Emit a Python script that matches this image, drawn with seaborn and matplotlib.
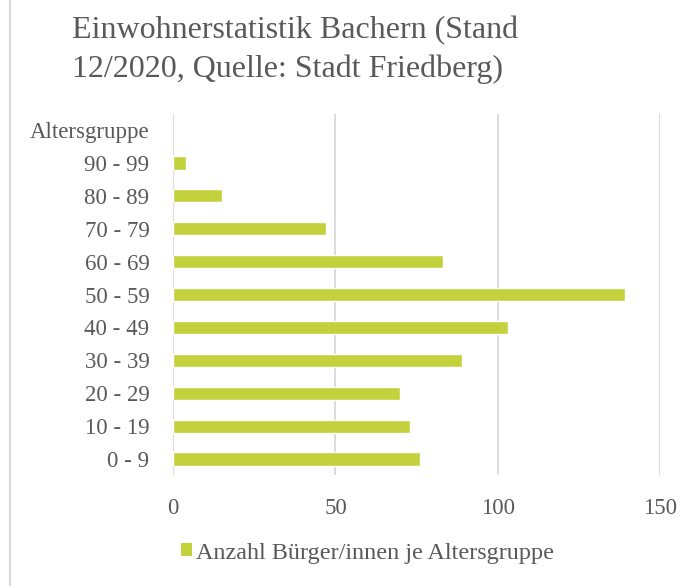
import matplotlib
matplotlib.use('Agg')
import pandas as pd
import seaborn as sns
from matplotlib import pyplot as plt
from matplotlib.lines import Line2D
from matplotlib.patches import Patch

# Daten (Stand 12/2020)
gruppen = ['90 - 99', '80 - 89', '70 - 79', '60 - 69', '50 - 59',
           '40 - 49', '30 - 39', '20 - 29', '10 - 19', '0 - 9']
anzahl = [4, 15, 47, 83, 139, 103, 89, 70, 73, 76]
reihenfolge = ['Altersgruppe'] + gruppen   # leere Kopfzeile wie im Original

titel = 'Einwohnerstatistik Bachern (Stand\n12/2020, Quelle: Stadt Friedberg)'
legende = 'Anzahl Bürger/innen je Altersgruppe'

gruen = '#C3D13C'
grau_text = '#595959'
grau_linie = '#D9D9D9'

sns.set_style('white')
plt.rcParams['font.family'] = ['Liberation Serif', 'DejaVu Serif']

df = pd.DataFrame({'Altersgruppe': gruppen, 'Anzahl': anzahl})

fig = plt.figure(figsize=(6.94, 5.86), dpi=100)
ax = fig.add_axes([0.2493, 0.1886, 0.7022, 0.6174])

sns.barplot(data=df, y='Altersgruppe', x='Anzahl', order=reihenfolge,
            color=gruen, saturation=1, width=0.4, orient='h', ax=ax)

ax.set_xlim(0, 150)
ax.set_xticks([0, 50, 100, 150])
ax.set_xlabel('')
ax.set_ylabel('')
ax.grid(axis='x', color=grau_linie, linewidth=1.3)
ax.set_axisbelow(True)
for s in ax.spines.values():
    s.set_visible(False)
ax.tick_params(axis='both', length=0, colors=grau_text, labelsize=16.5)
ax.tick_params(axis='y', pad=17)
ax.tick_params(axis='x', pad=16)

fig.text(72 / 694, 1 - 50 / 586, titel, fontsize=23, color=grau_text,
         ha='left', va='center', linespacing=1.4)

fig.legend(handles=[Patch(facecolor=gruen, edgecolor='none')], labels=[legende],
           loc='center left', bbox_to_anchor=(159 / 694, 1 - 553 / 586),
           frameon=False, fontsize=17.4, labelcolor=grau_text,
           handlelength=0.45, handleheight=0.45, handletextpad=0.2)

# Rahmenlinie links
fig.add_artist(Line2D([9.5 / 694, 9.5 / 694], [0, 1], color=grau_linie, linewidth=1.5))

fig.savefig('out.png', dpi=100)
